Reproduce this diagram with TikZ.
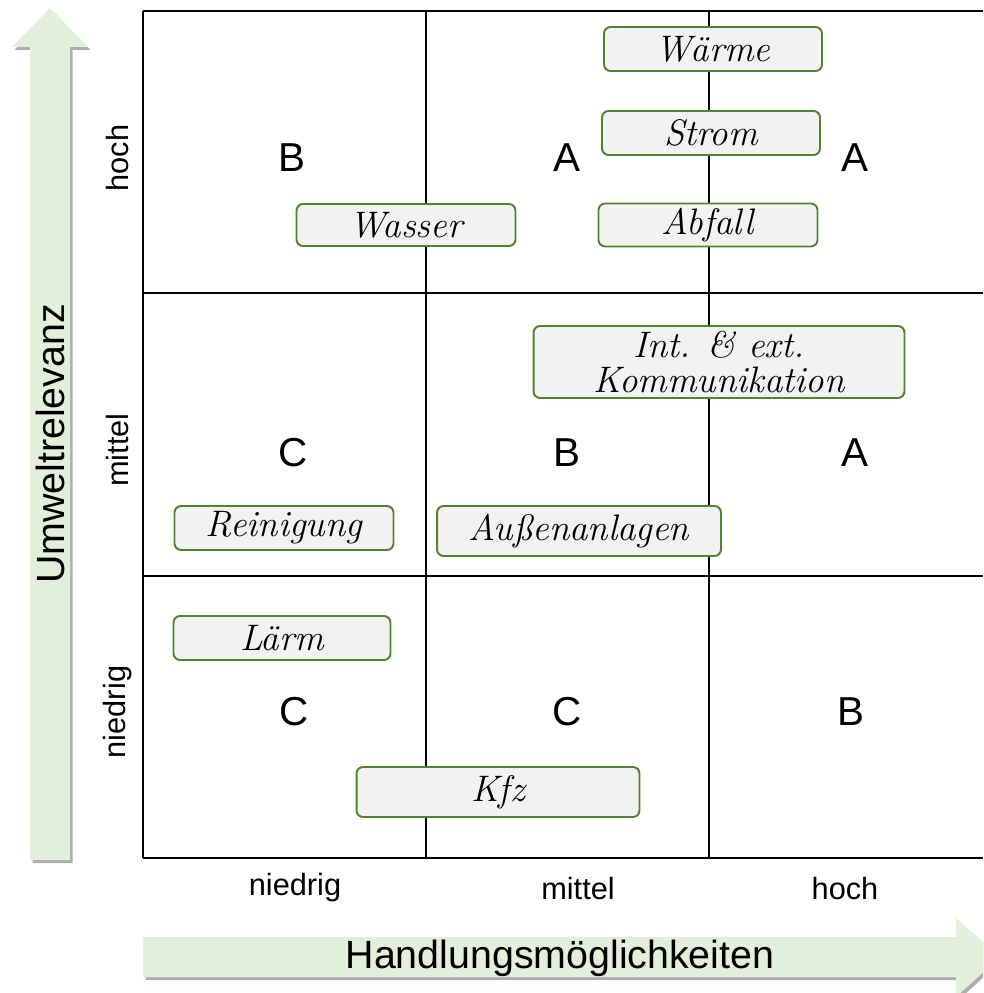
\documentclass[tikz,border=0pt]{standalone}
\usepackage{fontspec}
\newfontfamily\arialfont{Liberation Sans}
\usetikzlibrary{shadows}
\definecolor{axisgreen}{HTML}{E2EFDA}
\definecolor{boxgreen}{HTML}{548235}
\definecolor{boxfill}{HTML}{F2F2F2}
\tikzset{
    topic/.style={draw=boxgreen, line width=1.1pt, fill=boxfill, rounded corners=0.13cm,
        inner sep=0pt, align=center,
        font=\fontsize{21}{20}\selectfont\itshape\addfontfeatures{LetterSpace=6}},
    grade/.style={font=\arialfont\fontsize{23}{26}\selectfont},
    tick/.style={font=\arialfont\fontsize{17.5}{20}\selectfont},
    axisarrow/.style={fill=axisgreen, draw=none,
        drop shadow={shadow xshift=0.05cm, shadow yshift=-0.06cm, opacity=0.45, fill=black!70}},
    axistitle/.style={font=\arialfont\fontsize{22.4}{26}\selectfont},
}
\begin{document}
\begin{tikzpicture}[x=0.02cm, y=-0.02cm]
    \useasboundingbox (0,0) rectangle (983,993);
    \clip (0,0) rectangle (983,993);
    %%% Axes
    \draw[axisarrow] (30,860) -- (30,47) -- (12,47) -- (50,8) -- (88,47) -- (70,47) -- (70,860) -- cycle;
    \node[axistitle, rotate=90] (yaxis) at (50,444) {Umweltrelevanz};
    %
    \draw[axisarrow] (143,937) -- (956,937) -- (956,918) -- (1000,957) -- (956,997) -- (956,977) -- (143,977) -- cycle;
    \node[axistitle] (xaxis) at (560,958) {Handlungsmöglichkeiten};
    %
    %%% Grid
    \draw[line width=1.3pt] (143,11) -- (983,11);
    \draw[line width=1.3pt] (143,293) -- (983,293);
    \draw[line width=1.3pt] (143,576) -- (983,576);
    \draw[line width=1.3pt] (143,858) -- (983,858);
    \foreach \gx in {143,426,709}
        \draw[line width=1.3pt] (\gx,11) -- (\gx,858);
    %
    %%% Tick labels
    \node[tick] (xlow) at (295,888) {niedrig};
    \node[tick] (xmid) at (578,888) {mittel};
    \node[tick] (xhigh) at (845,888) {hoch};
    \node[tick, rotate=90] (yhigh) at (118,158) {hoch};
    \node[tick, rotate=90] (ymid) at (118,450) {mittel};
    \node[tick, rotate=90] (ylow) at (118,712) {niedrig};
    %
    %%% Grades
    \node[grade] (g13) at (292,158) {B};
    \node[grade] (g23) at (567,158) {A};
    \node[grade] (g33) at (855,158) {A};
    \node[grade] (g12) at (293,453) {C};
    \node[grade] (g22) at (567,453) {B};
    \node[grade] (g32) at (855,453) {A};
    \node[grade] (g11) at (294,712) {C};
    \node[grade] (g21) at (567,712) {C};
    \node[grade] (g31) at (851,712) {B};
    %
    %%% Topics
    \node[topic, minimum width=4.36cm, minimum height=0.88cm] (waerme) at (713,49) {Wärme};
    \node[topic, minimum width=4.36cm, minimum height=0.88cm] (strom) at (711,133) {Strom};
    \node[topic, minimum width=4.38cm, minimum height=0.86cm] (abfall) at (708,225) {Abfall};
    \node[topic, minimum width=4.38cm, minimum height=0.84cm] (wasser) at (406,225) {Wasser};
    \node[topic, minimum width=7.42cm, minimum height=1.44cm] (kommunikation) at (719,362) {Int. \& ext.\\Kommunikation};
    \node[topic, minimum width=4.38cm, minimum height=0.88cm] (reinigung) at (284,528) {Reinigung};
    \node[topic, minimum width=5.68cm, minimum height=1.0cm] (aussen) at (579,531) {Außenanlagen};
    \node[topic, minimum width=4.34cm, minimum height=0.88cm] (laerm) at (282,638) {Lärm};
    \node[topic, minimum width=5.66cm, minimum height=1.0cm] (kfz) at (498,792) {Kfz};
\end{tikzpicture}
\end{document}
